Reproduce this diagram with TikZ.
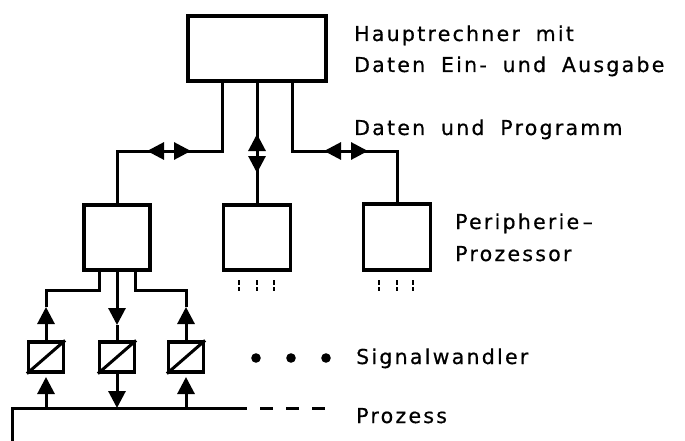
\documentclass[tikz,border=0pt]{standalone}
\usepackage{fontspec}
\setmainfont{DejaVu Sans}[LetterSpace=11,WordSpace=1.8,FakeBold=0.6]
\usetikzlibrary{arrows.meta}
\begin{document}
\begin{tikzpicture}[x=1pt,y=-1pt,
  blk/.style={draw, line width=3.5pt, inner sep=0pt},
  conv/.style={draw, line width=3.2pt, inner sep=0pt, minimum width=35pt, minimum height=30pt},
  wire/.style={line width=3pt},
  tip/.style={-{Triangle[length=17pt,width=17pt]}},
  dtip/.style={{Triangle[length=17pt,width=17pt]}-{Triangle[length=17pt,width=17pt]}},
  stub/.style={line width=2.5pt, dash pattern=on 5pt off 2pt},
  lbl/.style={anchor=base west, inner sep=0pt, font=\fontsize{20.5}{31}\selectfont}]
\useasboundingbox (0,0) rectangle (685,441);
% boxes
\node[blk, minimum width=138pt, minimum height=65pt] (main) at (257,48.5) {};
\node[blk, minimum width=66pt, minimum height=65pt] (pl) at (117,237.5) {};
\node[blk, minimum width=67pt, minimum height=65pt] (pc) at (257,237.5) {};
\node[blk, minimum width=67pt, minimum height=66pt] (pr) at (397,237) {};
\node[conv] (c1) at (46,357) {};
\node[conv] (c2) at (117,357) {};
\node[conv] (c3) at (186,357) {};
\foreach \c in {c1,c2,c3} \draw[line width=3pt] (\c.south west) -- (\c.north east);
% top connections
\coordinate (ml) at (222,151);
\coordinate (mr) at (292,151);
\draw[wire] (main.south -| ml) -- (ml) -- (ml -| pl.north) -- (pl.north);
\draw[wire] (main.south) -- (pc.north);
\draw[wire] (main.south -| mr) -- (mr) -- (mr -| pr.north) -- (pr.north);
\coordinate (la) at (147,151); \coordinate (lb) at (191,151);
\draw[wire,dtip] (la) -- (lb);
\coordinate (ca) at (257,134); \coordinate (cb) at (257,173);
\draw[wire,dtip] (ca) -- (cb);
\coordinate (ra) at (324,151); \coordinate (rb) at (368,151);
\draw[wire,dtip] (ra) -- (rb);
% stubs
\foreach \x in {239,257,274} \draw[stub] (\x,280) -- (\x,291);
\foreach \x in {379,397,413} \draw[stub] (\x,280) -- (\x,291);
% processor to converters
\coordinate (bl) at (99,290);
\coordinate (br) at (135,290);
\coordinate (t1) at (46,307);
\coordinate (t3) at (186,307);
\draw[wire] (pl.south -| bl) -- (bl) -- (bl -| c1.north) -- (t1);
\draw[wire,tip] (c1.north) -- (t1);
\draw[wire] (pl.south -| br) -- (br) -- (br -| c3.north) -- (t3);
\draw[wire,tip] (c3.north) -- (t3);
\coordinate (t2) at (117,325);
\draw[wire,tip] (pl.south) -- (t2);
\draw[wire] (t2) -- (c2.north);
% bus
\coordinate (bus0) at (12,441);
\coordinate (bus1) at (12,408);
\coordinate (bus2) at (247,408);
\coordinate (bus3) at (260,408);
\coordinate (bus4) at (326,408);
\draw[wire] (bus0) -- (bus1) -- (bus2);
\draw[wire, dash pattern=on 13pt off 13pt] (bus3) -- (bus4);
\coordinate (u1) at (46,377);
\coordinate (u3) at (186,377);
\draw[wire,tip] (bus1 -| c1.south) -- (u1);
\draw[wire,tip] (c2.south) -- (bus1 -| c2.south);
\draw[wire,tip] (bus1 -| c3.south) -- (u3);
% dots
\foreach \x in {256,291,326} \fill (\x,358) circle (4.8pt);
% labels
\node[lbl] (t_main1) at (354,41) {Hauptrechner mit};
\node[lbl] (t_main2) at (354,72) {Daten Ein- und Ausgabe};
\node[lbl] (t_dat) at (354,135) {Daten und Programm};
\node[lbl] (t_per1) at (455,229) {Peripherie\,–};
\node[lbl] (t_per2) at (455,261) {Prozessor};
\node[lbl] (t_sig) at (356,364) {Signalwandler};
\node[lbl] (t_pro) at (356,423) {Prozess};
\end{tikzpicture}
\end{document}
